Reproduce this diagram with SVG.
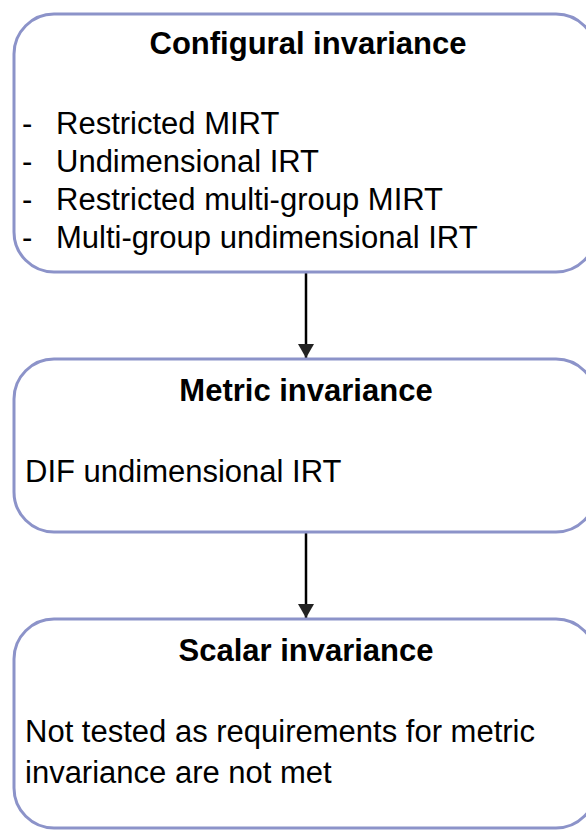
<svg xmlns="http://www.w3.org/2000/svg" width="586" height="830" viewBox="0 0 586 830">
<style>
.box{fill:#fff;stroke:#8c93c9;stroke-width:3}
.t{font-family:"Liberation Sans",Arial,sans-serif;font-size:31px;fill:#000}
.h{font-weight:bold;text-anchor:middle}
.c{stroke:#000;stroke-width:2.5;fill:none}
</style>
<defs>
<marker id="ah" viewBox="0 0 14 16" refX="14" refY="8" markerWidth="14" markerHeight="16" markerUnits="userSpaceOnUse" orient="auto">
<path d="M0,0 L14,8 L0,16 Z" fill="#222"/>
</marker>
</defs>
<rect width="586" height="830" fill="#fff"/>
<g id="connectors">
<line class="c" x1="306" y1="272" x2="306" y2="358" marker-end="url(#ah)"/>
<line class="c" x1="306" y1="532" x2="306" y2="618" marker-end="url(#ah)"/>
</g>
<g id="configural">
<rect class="box" x="14" y="14" width="582" height="258" rx="40"/>
<text class="t h" x="308" y="54">Configural invariance</text>
<text class="t"><tspan x="22" y="134">-</tspan><tspan x="56" y="134">Restricted MIRT</tspan></text>
<text class="t"><tspan x="22" y="172">-</tspan><tspan x="56" y="172">Undimensional IRT</tspan></text>
<text class="t"><tspan x="22" y="210">-</tspan><tspan x="56" y="210">Restricted multi-group MIRT</tspan></text>
<text class="t"><tspan x="22" y="248">-</tspan><tspan x="56" y="248">Multi-group undimensional IRT</tspan></text>
</g>
<g id="metric">
<rect class="box" x="14" y="359" width="582" height="173" rx="40"/>
<text class="t h" x="306" y="401">Metric invariance</text>
<text class="t" x="25" y="482">DIF undimensional IRT</text>
</g>
<g id="scalar">
<rect class="box" x="14" y="619" width="582" height="209" rx="40"/>
<text class="t h" x="306" y="661">Scalar invariance</text>
<text class="t" x="25" y="742">Not tested as requirements for metric</text>
<text class="t" x="25" y="783">invariance are not met</text>
</g>
</svg>
